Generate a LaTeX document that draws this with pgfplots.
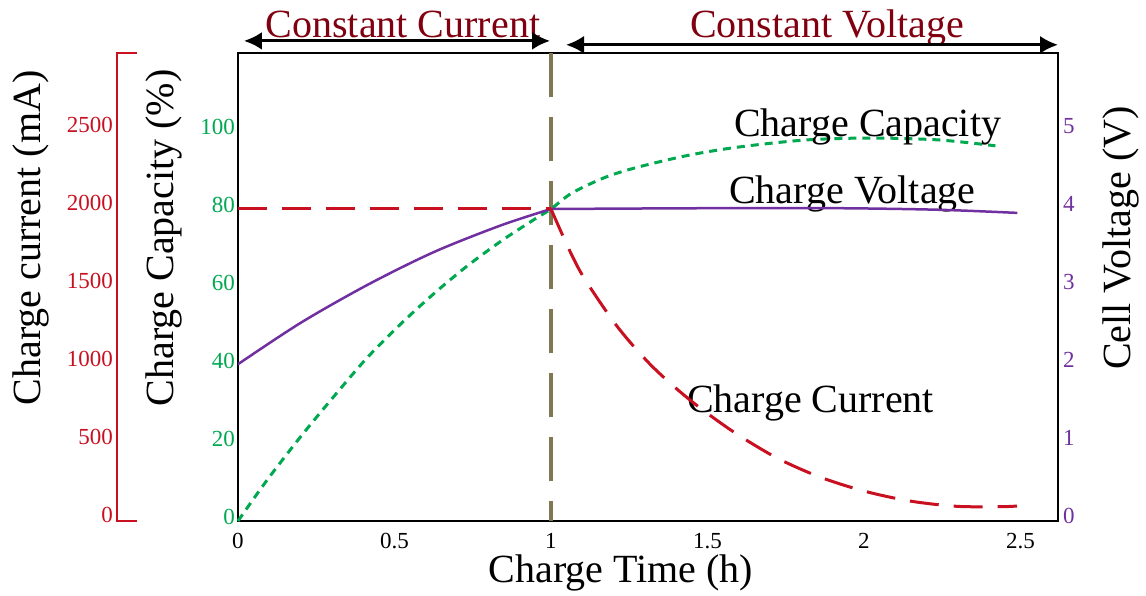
\documentclass[border=0pt]{standalone}
\usepackage{fontspec}
\setmainfont{Liberation Serif}
\usepackage{pgfplots}
\pgfplotsset{compat=1.18}
\usetikzlibrary{arrows.meta}

\definecolor{cgreen}{RGB}{0,168,80}
\definecolor{cred}{RGB}{200,16,32}
\definecolor{cpurple}{RGB}{112,48,160}
\definecolor{colive}{RGB}{128,120,80}
\definecolor{cmaroon}{RGB}{128,0,16}

\newcommand{\bigf}{\fontsize{40}{48}\selectfont}

\pgfplotsset{
  common/.style={
    width=820pt, height=468pt, scale only axis,
    xmin=0, xmax=2.62,
    /pgf/number format/assume math mode=true,
    /pgf/number format/1000 sep={},
    tick label style={font=\fontsize{23}{28}\selectfont},
    major tick length=0pt,
  }
}

\begin{document}
\begin{tikzpicture}
% ---------------- main axis: capacity (%) ----------------
\begin{axis}[common, name=main,
  ymin=0, ymax=120,
  axis line style={line width=2.5pt},
  xtick={0,0.5,1,1.5,2,2.5},
  xticklabels={0,0.5,1,1.5,2,2.5},
  ytick={0,20,40,60,80,100},
  yticklabel style={text=cgreen, anchor=east, inner sep=0pt, xshift=-3pt, yshift=4pt},
  xticklabel style={anchor=north, inner sep=0pt, yshift=-12pt},
  xlabel={Charge Time (h)},
  every axis x label/.style={at={(axis description cs:0.467,0)}, anchor=base, yshift=-62pt, font=\bigf},
  ylabel={Charge Capacity (\%)},
  every axis y label/.style={at={(axis description cs:-0.079,0.605)}, rotate=90, anchor=base, font=\bigf},
  clip=false]
\addplot[colive, line width=4pt, dash pattern=on 44pt off 20pt] coordinates {(1,120) (1,0)};
\addplot[cgreen, line width=3pt, dash pattern=on 8pt off 6pt, smooth] coordinates {
(0,0) (0.093,10.5) (0.20,21.6) (0.307,32.0) (0.412,41.8) (0.521,50.6) (0.626,58.3)
(0.731,65.3) (0.843,71.9) (0.946,77.3) (1.0,80) (1.067,84.1) (1.176,88.2) (1.281,90.8)
(1.441,93.8) (1.601,95.9) (1.815,97.7) (2.026,98.2) (2.24,97.7) (2.42,96.2)};
\node[anchor=base west, inner sep=0pt, font=\bigf] at (axis cs:1.585,98.5) {Charge Capacity};
\node[anchor=base west, inner sep=0pt, font=\bigf] at (axis cs:1.569,81.5) {Charge Voltage};
\node[anchor=base west, inner sep=0pt, font=\bigf] at (axis cs:1.434,27.9) {Charge Current};
\node[anchor=base, inner sep=0pt, text=cmaroon, font=\bigf] at (axis cs:0.527,124.1) {Constant Current};
\node[anchor=base, inner sep=0pt, text=cmaroon, font=\bigf] at (axis cs:1.882,124.1) {Constant Voltage};
\draw[{Latex[length=18pt,width=18pt]}-{Latex[length=18pt,width=18pt]}, line width=3pt] (axis cs:0.019,123.1) -- (axis cs:0.997,123.1);
\draw[{Latex[length=18pt,width=18pt]}-{Latex[length=18pt,width=18pt]}, line width=3pt] (axis cs:1.048,122.1) -- (axis cs:2.62,122.1);
\end{axis}

% ---------------- right axis: cell voltage (V) ----------------
\begin{axis}[common,
  ymin=0, ymax=6,
  axis y line*=right, axis x line=none,
  y axis line style={draw=none},
  ytick={0,1,2,3,4,5},
  yticklabel style={text=cpurple, anchor=west, inner sep=0pt, xshift=5pt, yshift=5pt},
  ylabel={Cell Voltage (V)},
  every axis y label/.style={at={(axis description cs:1.089,0.605)}, rotate=90, anchor=base, font=\bigf}]
\addplot[cpurple, line width=2.5pt, smooth] coordinates {
(0,2.01) (0.20,2.54) (0.415,3.03) (0.627,3.45) (0.84,3.79) (1.0,4.0)};
\addplot[cpurple, line width=2.5pt, smooth] coordinates {
(1.0,4.0) (1.5,4.01) (1.92,4.01) (2.24,3.99) (2.49,3.95)};
\end{axis}

% ---------------- far-left axis: charge current (mA) ----------------
\begin{axis}[common,
  ymin=0, ymax=3000,
  axis y line*=left, axis x line=none,
  y axis line style={draw=none},
  ytick={0,500,1000,1500,2000,2500},
  yticklabel style={text=cred, anchor=east, inner sep=0pt, xshift=-125pt, yshift=6pt},
  ylabel={Charge current (mA)},
  every axis y label/.style={at={(axis description cs:-0.241,0.605)}, rotate=90, anchor=base, font=\bigf},
  clip=false]
\addplot[cred, line width=3pt, dash pattern=on 29pt off 15pt] coordinates {(0,2000) (1,2000)};
\addplot[cred, line width=3pt, dash pattern=on 29pt off 15pt, smooth] coordinates {
(1.0,2000) (1.058,1740) (1.105,1560) (1.192,1300) (1.249,1155) (1.319,1000)
(1.393,862) (1.473,730) (1.588,565) (1.722,404) (1.859,282) (2.0,192) (2.147,128)
(2.297,94) (2.441,92) (2.489,96)};
\draw[cred, line width=2.5pt] ([xshift=-101pt]rel axis cs:0,1) -- ([xshift=-121pt]rel axis cs:0,1)
  -- ([xshift=-121pt]rel axis cs:0,0) -- ([xshift=-101pt]rel axis cs:0,0);
\end{axis}

\pgfresetboundingbox
\path (main.south west) ++(-238pt,-75pt) rectangle ++(1146pt,596pt);
\end{tikzpicture}
\end{document}
